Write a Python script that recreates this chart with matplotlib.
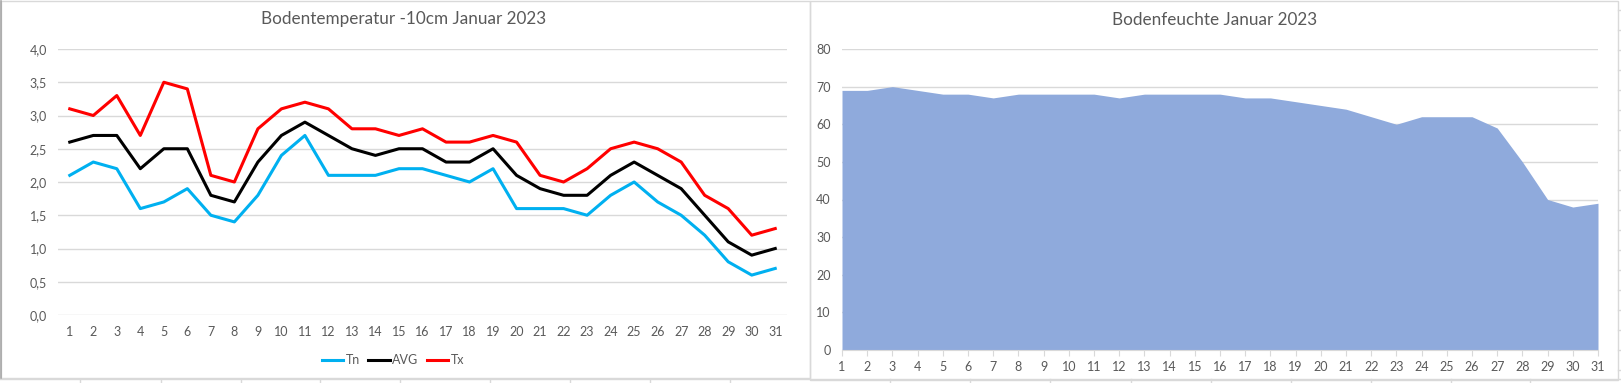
import matplotlib.pyplot as plt
from matplotlib.lines import Line2D
from matplotlib.patches import Rectangle
from matplotlib.ticker import FuncFormatter

plt.rcParams['font.family'] = ['Lato', 'DejaVu Sans']

days = list(range(1, 32))
tn = [2.1, 2.3, 2.2, 1.6, 1.7, 1.9, 1.5, 1.4, 1.8, 2.4, 2.7, 2.1, 2.1, 2.1, 2.2, 2.2,
      2.1, 2.0, 2.2, 1.6, 1.6, 1.6, 1.5, 1.8, 2.0, 1.7, 1.5, 1.2, 0.8, 0.6, 0.7]
avg = [2.6, 2.7, 2.7, 2.2, 2.5, 2.5, 1.8, 1.7, 2.3, 2.7, 2.9, 2.7, 2.5, 2.4, 2.5, 2.5,
       2.3, 2.3, 2.5, 2.1, 1.9, 1.8, 1.8, 2.1, 2.3, 2.1, 1.9, 1.5, 1.1, 0.9, 1.0]
tx = [3.1, 3.0, 3.3, 2.7, 3.5, 3.4, 2.1, 2.0, 2.8, 3.1, 3.2, 3.1, 2.8, 2.8, 2.7, 2.8,
      2.6, 2.6, 2.7, 2.6, 2.1, 2.0, 2.2, 2.5, 2.6, 2.5, 2.3, 1.8, 1.6, 1.2, 1.3]
feuchte = [69, 69, 70, 69, 68, 68, 67, 68, 68, 68, 68, 67, 68, 68, 68, 68,
           67, 67, 66, 65, 64, 62, 60, 62, 62, 62, 59, 50, 40, 38, 39]

W, H = 1621, 383
txt = '#595959'
grid = '#d9d9d9'

fig = plt.figure(figsize=(W / 100, H / 100), dpi=100)
fig.patch.set_facecolor('white')


def fx(px):
    return px / W


def fy(py):
    return 1 - py / H


# spreadsheet cell lines peeking out round the charts
fig.add_artist(Line2D([0, 1], [fy(379), fy(379)], color=grid, lw=1))
for x in [80, 161, 241, 320, 400, 490, 570, 650, 730, 890, 970, 1050, 1131, 1211,
          1291, 1371, 1451, 1530]:
    fig.add_artist(Line2D([fx(x), fx(x)], [fy(379), 0], color=grid, lw=1))
for y in range(10, 380, 20):
    fig.add_artist(Line2D([fx(1618), 1], [fy(y), fy(y)], color=grid, lw=1))

# chart frames
fig.add_artist(Rectangle((fx(1), fy(378)), fx(809), fy(1) - fy(378), fill=False,
                         edgecolor=grid, lw=1))
fig.add_artist(Line2D([fx(1), fx(1)], [fy(1), fy(378)], color='#a6a6a6', lw=1.2))
fig.add_artist(Rectangle((fx(810), fy(380)), fx(808), fy(1) - fy(380), fill=False,
                         edgecolor=grid, lw=1))

# left chart: soil temperature
ax1 = fig.add_axes([fx(58), fy(315), fx(729), fy(49) - fy(315)])
ax1.plot(days, tn, color='#00b0f0', lw=2.2, label='Tn')
ax1.plot(days, avg, color='black', lw=2.2, label='AVG')
ax1.plot(days, tx, color='#ff0000', lw=2.2, label='Tx')
ax1.set_xlim(0.5, 31.5)
ax1.set_ylim(0, 4.0)
ax1.set_yticks([i * 0.5 for i in range(9)])
ax1.yaxis.set_major_formatter(FuncFormatter(lambda v, p: f'{v:.1f}'.replace('.', ',')))
ax1.set_xticks(days)
ax1.grid(axis='y', color=grid, lw=1)
ax1.set_axisbelow(True)
for s in ax1.spines.values():
    s.set_visible(False)
ax1.tick_params(length=0, labelsize=9, colors=txt, pad=8)
fig.text(fx(404), fy(19), 'Bodentemperatur -10cm Januar 2023', ha='center', va='center',
         fontsize=12.3, color=txt)
fig.legend(loc='center', bbox_to_anchor=(fx(393), fy(360)), ncol=3, frameon=False,
           fontsize=9, labelcolor=txt, handlelength=1.7, handletextpad=0.2,
           columnspacing=0.7)

# right chart: soil moisture
ax2 = fig.add_axes([fx(842), fy(350), fx(756), fy(49) - fy(350)])
ax2.fill_between(days, feuchte, color='#8faadc', lw=0)
ax2.set_xlim(1, 31)
ax2.set_ylim(0, 80)
ax2.set_yticks(range(0, 81, 10))
ax2.set_xticks(days)
ax2.grid(axis='y', color=grid, lw=1)
ax2.set_axisbelow(True)
for s in ax2.spines.values():
    s.set_visible(False)
ax2.spines['bottom'].set_visible(True)
ax2.spines['bottom'].set_color(grid)
ax2.tick_params(axis='y', length=0, labelsize=9, colors=txt, pad=8)
ax2.tick_params(axis='x', length=4, color=grid, labelsize=9, labelcolor=txt, pad=4)
fig.text(fx(1215), fy(20), 'Bodenfeuchte Januar 2023', ha='center', va='center',
         fontsize=12.3, color=txt)

fig.savefig('out.png', dpi=100)
